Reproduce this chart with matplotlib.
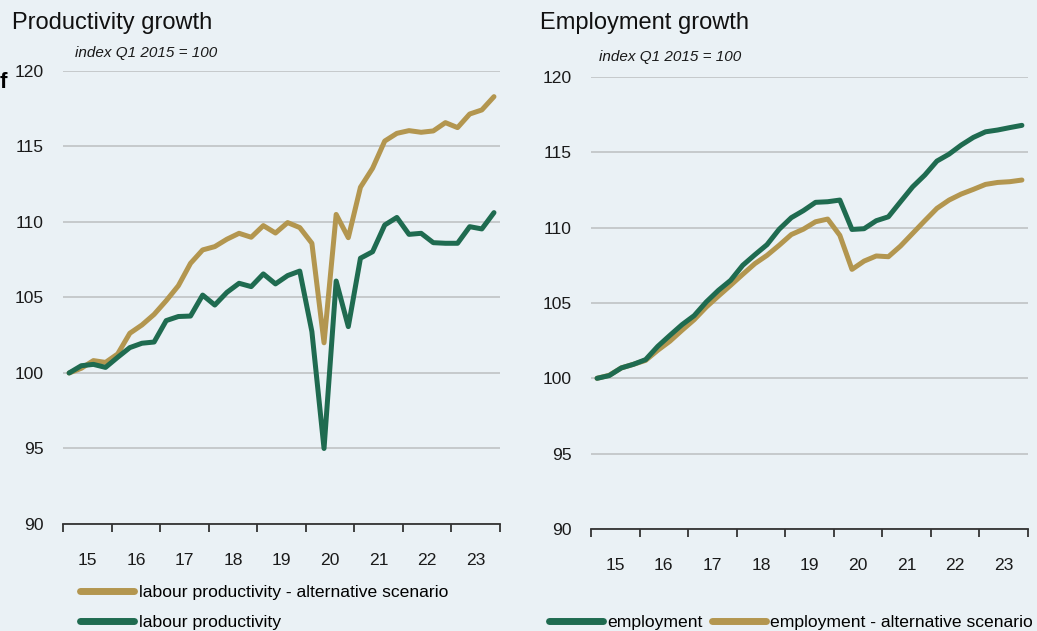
import matplotlib
matplotlib.use("Agg")
import matplotlib.pyplot as plt
from matplotlib.ticker import FixedLocator, NullFormatter, FixedFormatter

plt.rcParams["font.family"] = ["Liberation Sans", "DejaVu Sans"]

# quarterly data, Q1 2015 .. Q4 2023 (index Q1 2015 = 100)
years = list(range(2015, 2024))
year_labels = ["15", "16", "17", "18", "19", "20", "21", "22", "23"]

productivity = [100.0, 100.48, 100.57, 100.37, 101.04, 101.68, 101.97, 102.05, 103.47,
                103.74, 103.77, 105.16, 104.5, 105.34, 105.94, 105.72, 106.56, 105.9,
                106.45, 106.75, 102.74, 95.0, 106.09, 103.07, 107.6, 108.03, 109.8,
                110.3, 109.18, 109.25, 108.63, 108.59, 108.59, 109.69, 109.54, 110.62]
productivity_alt = [100.0, 100.31, 100.82, 100.7, 101.26, 102.63, 103.18, 103.88, 104.79,
                    105.78, 107.26, 108.15, 108.37, 108.86, 109.25, 108.99, 109.76, 109.27,
                    109.96, 109.63, 108.59, 102.0, 110.5, 108.96, 112.3, 113.56, 115.36,
                    115.87, 116.05, 115.94, 116.03, 116.58, 116.25, 117.15, 117.42, 118.3]

employment = [100.0, 100.18, 100.69, 100.93, 101.24, 102.12, 102.85, 103.56, 104.16,
              105.07, 105.84, 106.5, 107.5, 108.2, 108.87, 109.89, 110.66, 111.13,
              111.68, 111.72, 111.83, 109.88, 109.93, 110.46, 110.72, 111.72, 112.71,
              113.49, 114.42, 114.88, 115.48, 115.99, 116.36, 116.48, 116.64, 116.79]
employment_alt = [100.0, 100.2, 100.69, 100.93, 101.19, 101.86, 102.46, 103.19, 103.89,
                  104.73, 105.46, 106.17, 106.9, 107.61, 108.16, 108.83, 109.54, 109.9,
                  110.39, 110.57, 109.49, 107.23, 107.78, 108.12, 108.07, 108.78, 109.62,
                  110.46, 111.28, 111.83, 112.23, 112.54, 112.87, 113.0, 113.05, 113.16]

# quarter midpoints on a continuous year axis
quarters = [2015 + (i + 0.5) / 4 for i in range(len(productivity))]

BG = "#eaf1f5"
GREEN = "#1f6b50"
GOLD = "#b3964f"
GRID = "#c3c6c8"
FS = 12.6

fig = plt.figure(figsize=(10.37, 6.31), dpi=100, facecolor=BG)
ax1 = fig.add_axes([0.0608, 0.1696, 0.4214, 0.7179])
ax2 = fig.add_axes([0.5699, 0.1617, 0.4214, 0.7163])


def style_axis(ax):
    ax.set_facecolor(BG)
    ax.set_xlim(2015, 2024)
    ax.set_ylim(90, 120)
    ax.set_yticks([90, 95, 100, 105, 110, 115, 120])
    ax.yaxis.grid(True, color=GRID, lw=1.3)
    ax.set_axisbelow(True)
    for s in ["top", "right", "left"]:
        ax.spines[s].set_visible(False)
    ax.spines["bottom"].set_color("#333333")
    ax.spines["bottom"].set_linewidth(1.3)
    ax.tick_params(axis="y", length=0, pad=14, labelsize=FS, colors="#1a1a1a")
    ax.xaxis.set_major_locator(FixedLocator(list(range(2015, 2025))))
    ax.xaxis.set_major_formatter(NullFormatter())
    ax.xaxis.set_minor_locator(FixedLocator([y + 0.5 for y in years]))
    ax.xaxis.set_minor_formatter(FixedFormatter(year_labels))
    ax.tick_params(axis="x", which="major", length=6, width=1.3, color="#333333", direction="out")
    ax.tick_params(axis="x", which="minor", length=0, pad=21, labelsize=FS, colors="#1a1a1a")


style_axis(ax1)
style_axis(ax2)

# productivity panel
l_alt, = ax1.plot(quarters, productivity_alt, color=GOLD, lw=3.6, solid_capstyle="round",
                  solid_joinstyle="round", label="labour productivity - alternative scenario")
l_prod, = ax1.plot(quarters, productivity, color=GREEN, lw=3.6, solid_capstyle="round",
                   solid_joinstyle="round", label="labour productivity")

# employment panel
e_alt, = ax2.plot(quarters, employment_alt, color=GOLD, lw=3.6, solid_capstyle="round",
                  solid_joinstyle="round", label="employment - alternative scenario")
e_emp, = ax2.plot(quarters, employment, color=GREEN, lw=3.6, solid_capstyle="round",
                  solid_joinstyle="round", label="employment")

# titles and units
fig.text(12 / 1037, 1 - 23 / 631, "Productivity growth", fontsize=17, va="center", ha="left",
         color="#111111")
fig.text(540 / 1037, 1 - 23 / 631, "Employment growth", fontsize=17, va="center", ha="left",
         color="#111111")
fig.text(75 / 1037, 1 - 53 / 631, "index Q1 2015 = 100", fontsize=11, style="italic",
         va="center", ha="left", color="#1a1a1a")
fig.text(599 / 1037, 1 - 57 / 631, "index Q1 2015 = 100", fontsize=11, style="italic",
         va="center", ha="left", color="#1a1a1a")
fig.text(0, 1 - 82 / 631, "f", fontsize=16, fontweight="bold", va="center", ha="left")

# legends below the axes
leg1 = fig.legend(handles=[l_alt, l_prod], loc="upper left",
                  bbox_to_anchor=(80 / 1037, 1 - 585 / 631), frameon=False, fontsize=FS,
                  handlelength=3.1, handletextpad=0.25, labelspacing=0.85, borderpad=0,
                  borderaxespad=0)
leg2 = fig.legend(handles=[e_emp, e_alt], loc="upper left", ncol=2,
                  bbox_to_anchor=(549 / 1037, 1 - 615 / 631), frameon=False, fontsize=FS,
                  handlelength=3.1, handletextpad=0.25, columnspacing=0.5, borderpad=0,
                  borderaxespad=0)
for leg in (leg1, leg2):
    for h in leg.legend_handles:
        h.set_linewidth(5)

fig.savefig("out.png", dpi=100, facecolor=BG)
